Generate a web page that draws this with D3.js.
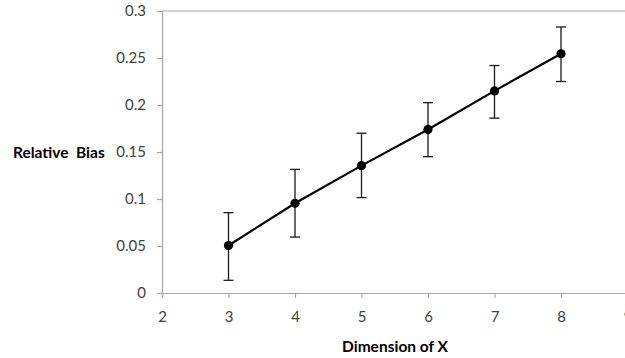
<!DOCTYPE html>
<html>
<head>
<meta charset="utf-8">
<script src="https://cdn.jsdelivr.net/npm/d3@7"></script>
<style>
  html, body { margin: 0; padding: 0; background: #fff; }
  svg text { font-family: Lato, "Open Sans", sans-serif; }
</style>
</head>
<body>
<svg id="chart" width="625" height="358"></svg>
<script>
// Relative bias by dimension of X, with error bars
const dims = [3, 4, 5, 6, 7, 8];
const bias = [0.0505, 0.0955, 0.1355, 0.174, 0.215, 0.2545];
const lower = [0.0135, 0.0595, 0.1015, 0.145, 0.186, 0.225];
const upper = [0.0855, 0.1315, 0.170, 0.2025, 0.242, 0.283];
const xTicks = [2, 3, 4, 5, 6, 7, 8, 9];
const yTicks = [0, 0.05, 0.1, 0.15, 0.2, 0.25, 0.3];

const svg = d3.select("#chart");
const x = d3.scaleLinear().domain([2, 9]).range([162, 627.5]);
const y = d3.scaleLinear().domain([0, 0.3]).range([293, 11]);

const axisColor = "#a6a6a6";
const textColor = "#404040";

// top border line
svg.append("line")
  .attr("x1", x(2)).attr("x2", 625)
  .attr("y1", y(0.3)).attr("y2", y(0.3))
  .attr("stroke", axisColor).attr("stroke-width", 1.2);

// y axis
const yAxis = svg.append("g")
  .attr("transform", `translate(${x(2)},0)`)
  .call(d3.axisLeft(y).tickValues(yTicks).tickSize(5).tickPadding(11)
        .tickFormat(d => d3.format("")(+d.toFixed(2))));
// x axis
const xAxis = svg.append("g")
  .attr("transform", `translate(0,${y(0)})`)
  .call(d3.axisBottom(x).tickValues(xTicks).tickSize(5).tickPadding(13)
        .tickFormat(d3.format("d")));

[yAxis, xAxis].forEach(g => {
  g.select(".domain").attr("stroke", axisColor).attr("stroke-width", 1.2);
  g.selectAll(".tick line").attr("stroke", axisColor).attr("stroke-width", 1.2);
  g.selectAll(".tick text")
    .attr("fill", textColor)
    .style("font-size", "15px");
});

// error bars
const data = dims.map((d, i) => ({ d, v: bias[i], lo: lower[i], hi: upper[i] }));
const eb = svg.append("g").attr("stroke", "#1a1a1a").attr("stroke-width", 1.3);
data.forEach(p => {
  eb.append("line").attr("x1", x(p.d)).attr("x2", x(p.d))
    .attr("y1", y(p.lo)).attr("y2", y(p.hi));
  [p.lo, p.hi].forEach(v => {
    eb.append("line").attr("x1", x(p.d) - 5).attr("x2", x(p.d) + 5)
      .attr("y1", y(v)).attr("y2", y(v));
  });
});

// line and markers
svg.append("path")
  .datum(data)
  .attr("fill", "none").attr("stroke", "#000").attr("stroke-width", 2.2)
  .attr("d", d3.line().x(p => x(p.d)).y(p => y(p.v)));

svg.append("g").selectAll("circle").data(data).join("circle")
  .attr("cx", p => x(p.d)).attr("cy", p => y(p.v)).attr("r", 4.6)
  .attr("fill", "#000");

// axis titles
svg.append("text")
  .attr("x", 13).attr("y", 157.5)
  .attr("fill", "#000").style("font-size", "15.5px").style("font-weight", "bold")
  .style("white-space", "pre")
  .text("Relative  Bias");

svg.append("text")
  .attr("x", 395).attr("y", 352).attr("text-anchor", "middle")
  .attr("fill", "#000").style("font-size", "15.5px").style("font-weight", "bold")
  .text("Dimension of X");
</script>
</body>
</html>
